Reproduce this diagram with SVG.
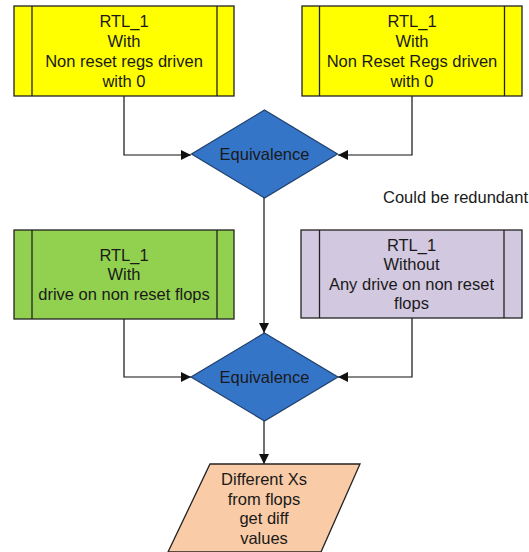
<svg xmlns="http://www.w3.org/2000/svg" width="529" height="552" viewBox="0 0 529 552">
<defs>
<style>
.t{font-family:"Liberation Sans",Arial,sans-serif;font-size:16.5px;fill:#1a1a1a;text-anchor:middle}
.box{stroke:#222;stroke-width:1.3}
.edge{fill:none;stroke:#111;stroke-width:1.2}
.dia{fill:#3575c8;stroke:#1f3f6a;stroke-width:1.2}
</style>
<marker id="arr" viewBox="0 0 10 10" refX="10" refY="5" markerWidth="10" markerHeight="10" markerUnits="userSpaceOnUse" orient="auto">
<path d="M0,0 L10,5 L0,10 z" fill="#111"/>
</marker>
</defs>
<rect width="529" height="552" fill="#fff"/>
<g id="connectors">
<path class="edge" d="M124,96 V155 H191" marker-end="url(#arr)"/>
<path class="edge" d="M412,96 V155 H338" marker-end="url(#arr)"/>
<path class="edge" d="M264,198 V333" marker-end="url(#arr)"/>
<path class="edge" d="M124,319 V377 H191" marker-end="url(#arr)"/>
<path class="edge" d="M412,318 V377 H338" marker-end="url(#arr)"/>
<path class="edge" d="M264,421 V464" marker-end="url(#arr)"/>
</g>
<g id="rtl1">
<rect class="box" x="14" y="6" width="220" height="90" fill="#ffff00"/>
<line class="box" x1="32" y1="6" x2="32" y2="96"/>
<line class="box" x1="217" y1="6" x2="217" y2="96"/>
<text class="t" x="124" y="26.5">RTL_1</text>
<text class="t" x="124" y="46.5">With</text>
<text class="t" x="124" y="66.5">Non reset regs driven</text>
<text class="t" x="124" y="86.5">with 0</text>
</g>
<g id="rtl2">
<rect class="box" x="302" y="6" width="220" height="90" fill="#ffff00"/>
<line class="box" x1="319.5" y1="6" x2="319.5" y2="96"/>
<line class="box" x1="504.5" y1="6" x2="504.5" y2="96"/>
<text class="t" x="412" y="26.5">RTL_1</text>
<text class="t" x="412" y="46.5">With</text>
<text class="t" x="412" y="66.5">Non Reset Regs driven</text>
<text class="t" x="412" y="86.5">with 0</text>
</g>
<g id="eq1">
<polygon class="dia" points="264.5,110 337.5,154 264.5,198 191.5,154"/>
<text class="t" x="264.5" y="160">Equivalence</text>
</g>
<g id="note">
<text class="t" x="455.5" y="203">Could be redundant</text>
</g>
<g id="rtl3">
<rect class="box" x="14" y="230" width="220" height="89" fill="#92d050"/>
<line class="box" x1="32" y1="230" x2="32" y2="319"/>
<line class="box" x1="217" y1="230" x2="217" y2="319"/>
<text class="t" x="124" y="260.5">RTL_1</text>
<text class="t" x="124" y="280">With</text>
<text class="t" x="124" y="299.5">drive on non reset flops</text>
</g>
<g id="rtl4">
<rect class="box" x="301" y="230" width="221" height="88" fill="#d2c8e0"/>
<line class="box" x1="319.5" y1="230" x2="319.5" y2="318"/>
<line class="box" x1="504" y1="230" x2="504" y2="318"/>
<text class="t" x="411.5" y="250.5">RTL_1</text>
<text class="t" x="411.5" y="270">Without</text>
<text class="t" x="411.5" y="289.5">Any drive on non reset</text>
<text class="t" x="411.5" y="309">flops</text>
</g>
<g id="eq2">
<polygon class="dia" points="264.5,333 338,377 264.5,421 191,377"/>
<text class="t" x="264.5" y="383">Equivalence</text>
</g>
<g id="result">
<polygon class="box" points="210,464 360,464 321,552 168,552" fill="#f9cba6"/>
<text class="t" x="264" y="485">Different Xs</text>
<text class="t" x="264" y="504.5">from flops</text>
<text class="t" x="264" y="524">get diff</text>
<text class="t" x="264" y="543.5">values</text>
</g>
</svg>
